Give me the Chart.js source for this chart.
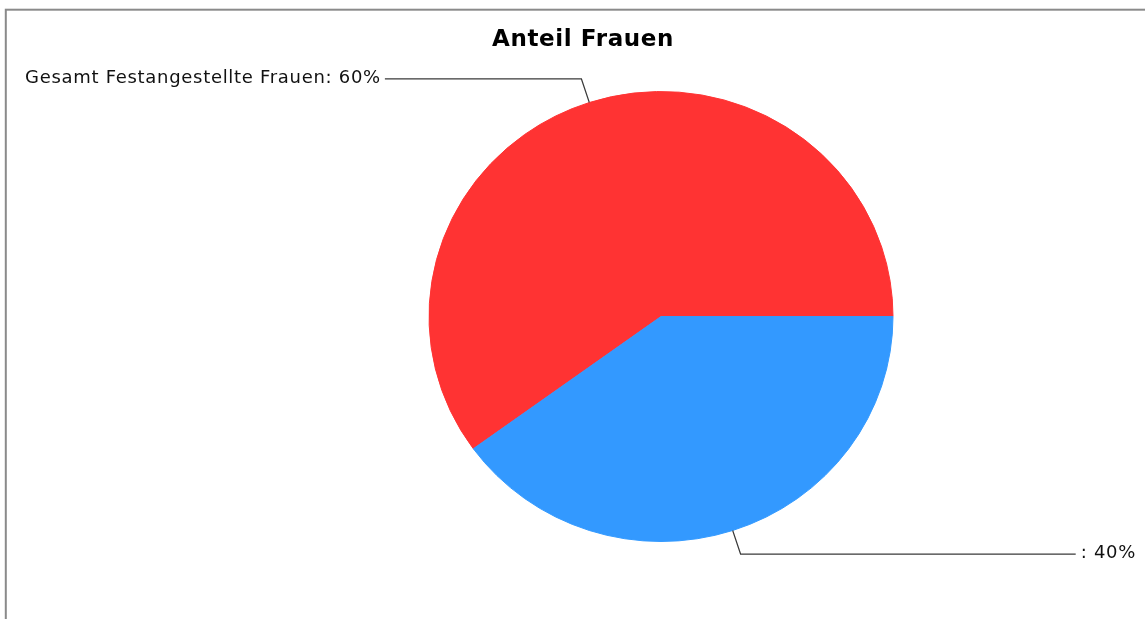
<!DOCTYPE html>
<html>
<head>
<meta charset="utf-8">
<script src="https://cdn.jsdelivr.net/npm/chart.js@4"></script>
<style>
    html, body { margin: 0; padding: 0; background: #fff; overflow: hidden; }
</style>
</head>
<body>
<canvas id="frauenChart" width="1145" height="619"></canvas>
<script>
// data
const chartTitle = 'Anteil Frauen';
const categories = ['Gesamt Festangestellte Frauen', ''];
const shares = [60, 40];
const sliceColors = ['#ff3333', '#3399ff'];

const total = shares.reduce((a, b) => a + b, 0);
// the pie is a bit flatter than it is wide in the original
const squash = 225 / 232;

const ellipsePlugin = {
    id: 'ellipse',
    beforeDatasetsDraw(chart) {
        const arc = chart.getDatasetMeta(0).data[0];
        const ctx = chart.ctx;
        ctx.save();
        ctx.translate(arc.x, arc.y);
        ctx.scale(1, squash);
        ctx.translate(-arc.x, -arc.y);
    },
    afterDatasetsDraw(chart) {
        chart.ctx.restore();
    }
};

// labels with leader lines, title and frame
const decorPlugin = {
    id: 'decor',
    afterDraw(chart) {
        const ctx = chart.ctx;
        const meta = chart.getDatasetMeta(0);
        ctx.save();

        ctx.font = '18px "DejaVu Sans"';
        ctx.letterSpacing = '0.7px';
        ctx.textBaseline = 'middle';
        ctx.textAlign = 'left';
        meta.data.forEach((arc, i) => {
            const mid = (arc.startAngle + arc.endAngle) / 2;
            const rx = arc.outerRadius;
            const ry = arc.outerRadius * squash;
            const ex = arc.x + Math.cos(mid) * rx;
            const ey = arc.y + Math.sin(mid) * ry;
            const kx = arc.x + Math.cos(mid) * rx * 1.11;
            const ky = arc.y + Math.sin(mid) * ry * 1.11;
            const right = Math.cos(mid) >= 0;
            const text = categories[i] + ': ' + Math.round(shares[i] / total * 100) + '%';
            const w = ctx.measureText(text).width;
            const tx = right ? chart.width - 9 - w : 25;
            const lx = right ? tx - 5 : tx + w + 4;

            ctx.strokeStyle = '#3a3a3a';
            ctx.lineWidth = 1.2;
            ctx.beginPath();
            ctx.moveTo(ex, ey);
            ctx.lineTo(kx, ky);
            ctx.lineTo(lx, ky);
            ctx.stroke();

            ctx.fillStyle = '#111';
            ctx.fillText(text, tx, ky - 1);
        });

        ctx.letterSpacing = '0.6px';
        ctx.font = 'bold 23px "DejaVu Sans"';
        ctx.textAlign = 'center';
        ctx.fillStyle = '#000';
        ctx.fillText(chartTitle, 583, 40);

        ctx.strokeStyle = '#8a8a8a';
        ctx.lineWidth = 2;
        ctx.strokeRect(5.8, 9.7, 1300, 800);
        ctx.restore();
    }
};

new Chart(document.getElementById('frauenChart'), {
    type: 'pie',
    data: {
        labels: categories,
        datasets: [{
            data: shares,
            backgroundColor: sliceColors,
            borderColor: sliceColors,
            borderWidth: 1
        }]
    },
    options: {
        responsive: false,
        devicePixelRatio: 1,
        animation: false,
        rotation: 90 - 360 * shares[0] / total,
        layout: {
            padding: { top: 84, bottom: 70, left: 377, right: 200 }
        },
        plugins: {
            legend: { display: false },
            title: { display: false },
            tooltip: { enabled: false }
        }
    },
    plugins: [ellipsePlugin, decorPlugin]
});
</script>
</body>
</html>
